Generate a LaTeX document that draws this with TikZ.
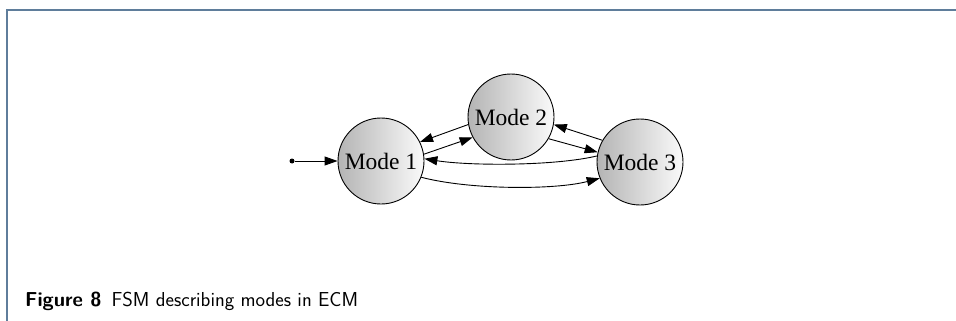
\documentclass[tikz,border=0pt]{standalone}
\usepackage{fontspec}
\setmainfont{Liberation Serif}
\usetikzlibrary{arrows.meta}
\definecolor{framecol}{RGB}{95,125,155}
\tikzset{
  mode/.style={circle, draw=black, line width=0.9pt, minimum size=86pt, inner sep=0pt,
    left color={rgb,255:red,180;green,180;blue,180}, right color={rgb,255:red,250;green,250;blue,250},
    font=\fontsize{23.5}{26}\selectfont},
  edge/.style={line width=0.9pt, -{Triangle[length=13pt,width=9pt]}},
  captxt/.style={font=\sffamily\fontsize{20.2}{22}\selectfont, anchor=base west, inner sep=0pt}
}
\begin{document}
\begin{tikzpicture}[x=1pt,y=-1pt]
\useasboundingbox (0,0) rectangle (956,321);
\draw[framecol, line width=1.4pt] (7,321) -- (7,10) -- (956,10);
\node[mode] (m1) at (381,161) {Mode 1};
\node[mode] (m2) at (511,117) {Mode 2};
\node[mode] (m3) at (640,162) {Mode 3};
\node[circle, fill=black, inner sep=0pt, minimum size=5pt] (init) at (292,161) {};
\draw[edge] (init) -- (m1.west);
\draw[edge] (m2.190) -- (m1.26);
\draw[edge] (m1.9) -- (m2.208);
\draw[edge] (m3.150) -- (m2.-10);
\draw[edge] (m2.-30) -- (m3.167);
\draw[edge] (m3.172) .. controls (555,166) and (470,166) .. (m1.3);
\draw[edge] (m1.-22) .. controls (470,190) and (555,190) .. (m3.-158);
\node[captxt] (cap) at (25,306) {\textbf{Figure 8}\enspace FSM describing modes in ECM};
\end{tikzpicture}
\end{document}
